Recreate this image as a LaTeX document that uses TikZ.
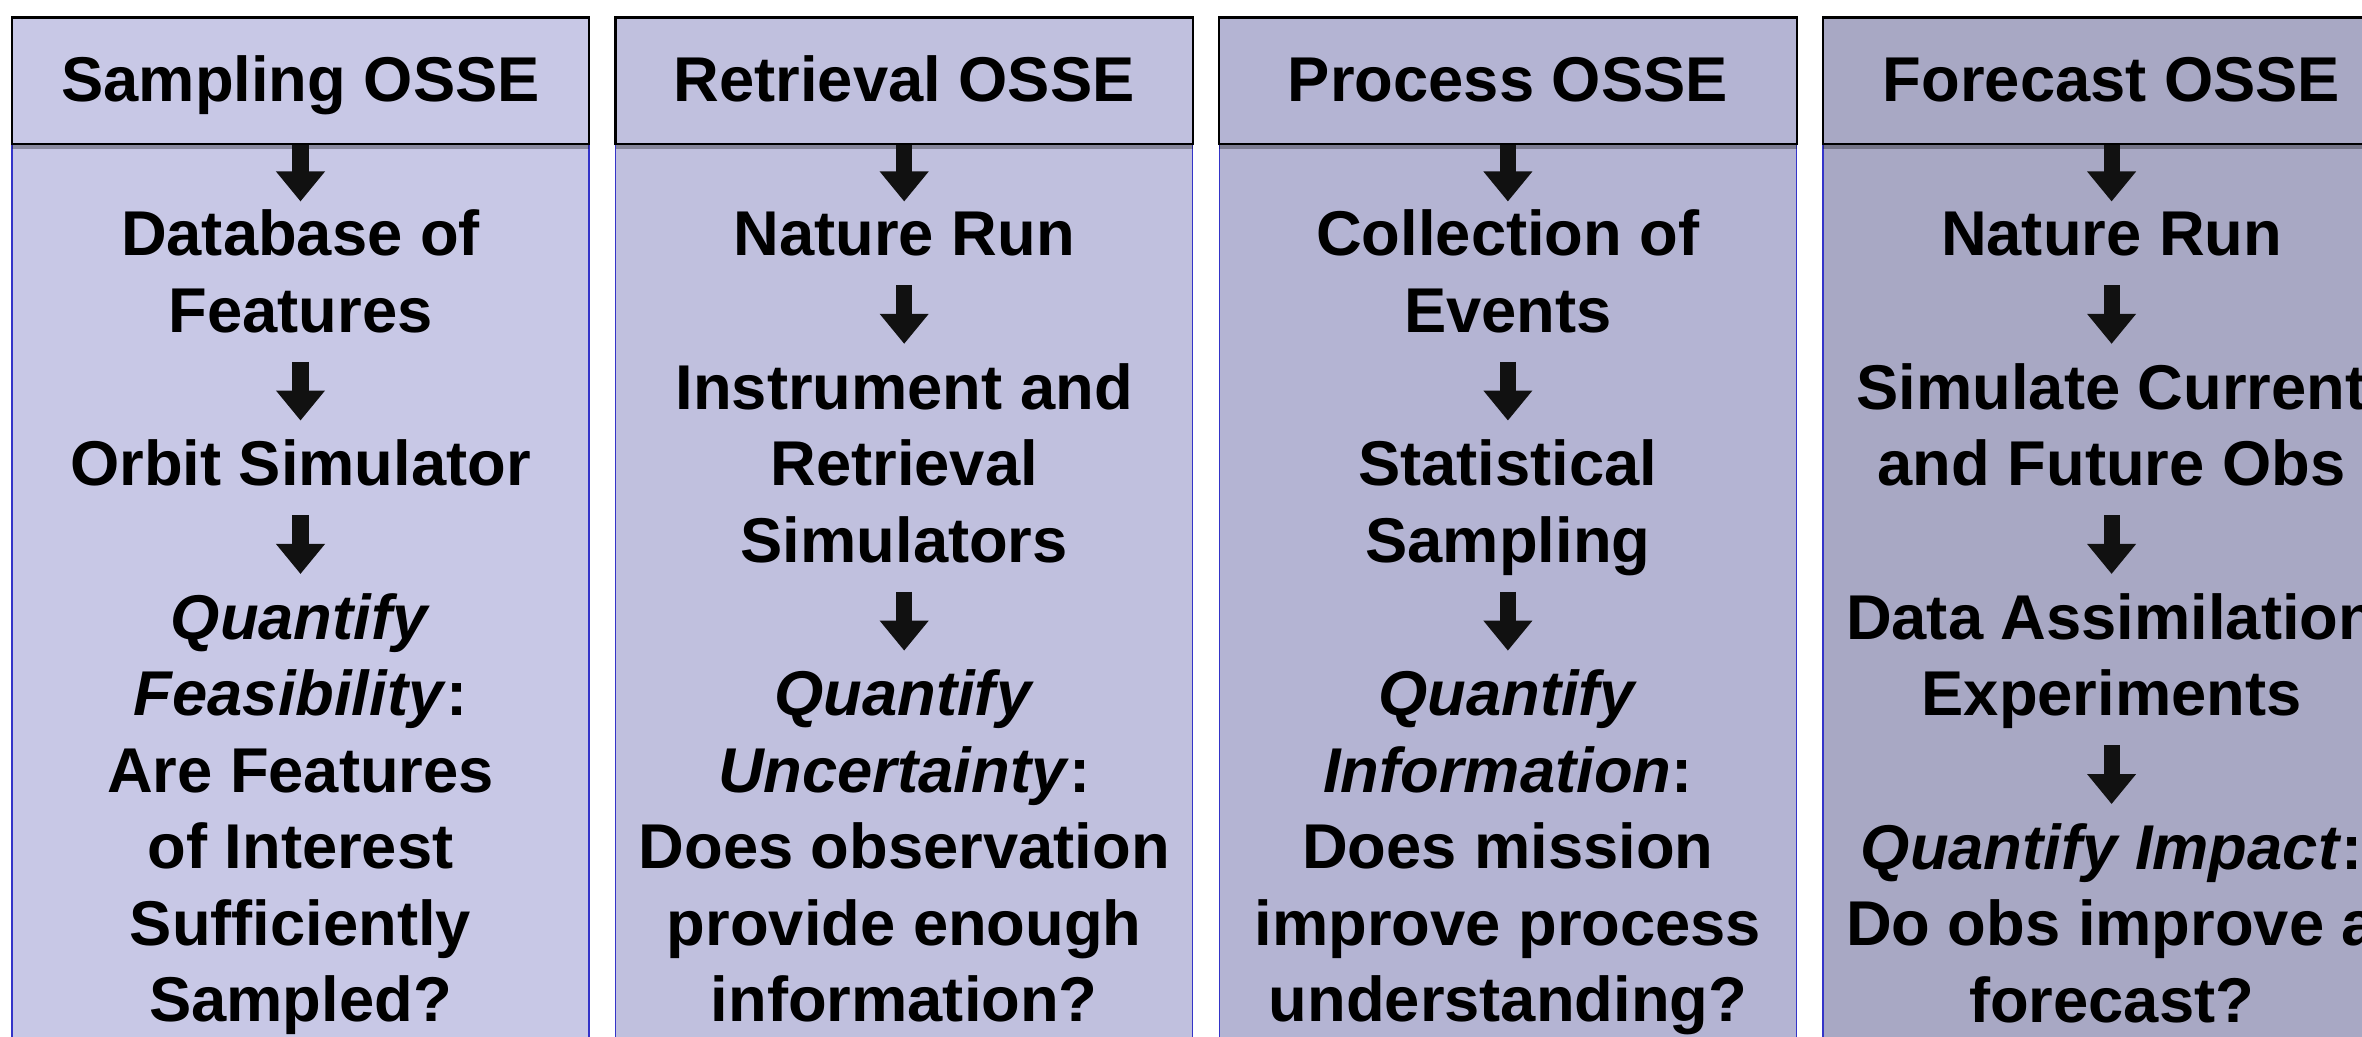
\documentclass[tikz,border=0pt]{standalone}
\usepackage{fontspec}
\setmainfont{Liberation Sans}
\usetikzlibrary{arrows.meta,shadows}

\definecolor{samplefill}{RGB}{200,200,230}
\definecolor{retrfill}{RGB}{192,192,222}
\definecolor{procfill}{RGB}{180,180,211}
\definecolor{fcstfill}{RGB}{168,168,196}
\definecolor{bodyline}{RGB}{52,52,200}
\definecolor{arrowblack}{RGB}{17,17,17}

\begin{document}
\begin{tikzpicture}[x=0.01cm, y=-0.01cm,
  every node/.style={font=\fontsize{18}{21.75}\selectfont\bfseries},
  osse/.style={draw=black, line width=0.6pt, anchor=north, inner sep=0pt,
    minimum width=5.77cm, minimum height=1.265cm, text height=13pt, text depth=1.5pt,
    drop shadow={shadow xshift=0pt, shadow yshift=-1.5pt, opacity=0.3, fill=black}},
  stepnode/.style={align=center, anchor=north, inner sep=0pt},
  fatarrow/.style={draw=arrowblack, line width=0.16cm, -{Triangle[width=0.47cm,length=0.30cm]}},
  steparrow/.style={fatarrow, shorten <=0.06cm, shorten >=0.11cm}]

  \useasboundingbox (0,0) rectangle (2362,1037);
  \clip (0,0) rectangle (2362,1037);

  % four columns: body panel and title bar
  \foreach \i/\col/\title in {0/samplefill/Sampling OSSE, 1/retrfill/Retrieval OSSE,
      2/procfill/Process OSSE, 3/fcstfill/Forecast OSSE} {
    \draw[draw=bodyline, line width=0.45pt, fill=\col] (12+603.7*\i,143) rectangle ++(577,930);
    \node[osse, fill=\col] (h\i) at (300.5+603.7*\i,16.5) {\title};
  }

  % sampling
  \node[stepnode] (db) at (300.5,201.5) {\strut Database of\\Features\strut};
  \node[stepnode] (orbit) at (300.5,431.6) {\strut Orbit Simulator\strut};
  \node[stepnode] (feas) at (300.5,585) {\strut\textit{Quantify}\\\textit{Feasibility}:\\Are Features\\of Interest\\Sufficiently\\Sampled?\strut};

  % retrieval
  \node[stepnode] (nr1) at (904.2,201.5) {\strut Nature Run\strut};
  \node[stepnode] (instr) at (904.2,354.9) {\strut Instrument and\\Retrieval\\Simulators\strut};
  \node[stepnode] (unc) at (904.2,661.7) {\strut\textit{Quantify}\\\textit{Uncertainty}:\\Does observation\\provide enough\\information?\strut};

  % process
  \node[stepnode] (events) at (1507.9,201.5) {\strut Collection of\\Events\strut};
  \node[stepnode] (stat) at (1507.9,431.6) {\strut Statistical\\Sampling\strut};
  \node[stepnode] (info) at (1507.9,661.7) {\strut\textit{Quantify}\\\textit{Information}:\\Does mission\\improve process\\understanding?\strut};

  % forecast
  \node[stepnode] (nr2) at (2111.6,201.5) {\strut Nature Run\strut};
  \node[stepnode] (simobs) at (2111.6,354.9) {\strut Simulate Current\\and Future Obs\strut};
  \node[stepnode] (dae) at (2111.6,585) {\strut Data Assimilation\\Experiments\strut};
  \node[stepnode] (impact) at (2111.6,815.1) {\strut\textit{Quantify Impact}:\\Do obs improve a\\forecast?\strut};

  \draw[fatarrow] (h0.south) -- (db.north);
  \draw[steparrow] (db.south) -- (orbit.north);
  \draw[steparrow] (orbit.south) -- (feas.north);

  \draw[fatarrow] (h1.south) -- (nr1.north);
  \draw[steparrow] (nr1.south) -- (instr.north);
  \draw[steparrow] (instr.south) -- (unc.north);

  \draw[fatarrow] (h2.south) -- (events.north);
  \draw[steparrow] (events.south) -- (stat.north);
  \draw[steparrow] (stat.south) -- (info.north);

  \draw[fatarrow] (h3.south) -- (nr2.north);
  \draw[steparrow] (nr2.south) -- (simobs.north);
  \draw[steparrow] (simobs.south) -- (dae.north);
  \draw[steparrow] (dae.south) -- (impact.north);
\end{tikzpicture}
\end{document}
